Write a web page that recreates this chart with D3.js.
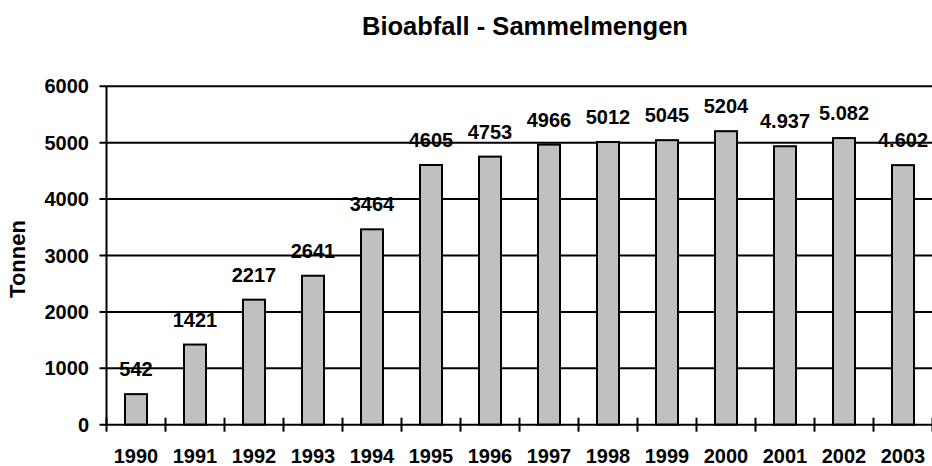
<!DOCTYPE html>
<html>
<head>
<meta charset="utf-8">
<script src="https://cdn.jsdelivr.net/npm/d3@7"></script>
<style>
  body { margin: 0; background: #fff; }
  text { font-family: "Liberation Sans", Arial, sans-serif; font-weight: bold; fill: #000; }
</style>
</head>
<body>
<div id="chart"></div>
<script>
// Jahre und Sammelmengen (Tonnen)
let years = ['1990', '1991', '1992', '1993', '1994', '1995', '1996', '1997', '1998', '1999', '2000', '2001', '2002', '2003'];
let amounts = [542, 1421, 2217, 2641, 3464, 4605, 4753, 4966, 5012, 5045, 5204, 4937, 5082, 4602];
let labels = ['542', '1421', '2217', '2641', '3464', '4605', '4753', '4966', '5012', '5045', '5204', '4.937', '5.082', '4.602'];
let yTicks = [0, 1000, 2000, 3000, 4000, 5000, 6000];

let width = 932, height = 466;
let pLeft = 106.5, pRight = 932.5, pTop = 86.3, pBottom = 424.7;

let svg = d3.select('#chart').append('svg')
    .attr('width', width)
    .attr('height', height);

//比例尺
let x = d3.scaleBand().domain(years).range([pLeft, pRight]).padding(0);
let y = d3.scaleLinear().domain([0, 6000]).range([pBottom, pTop]);
let barW = 22;

//网格线
svg.append('g').selectAll('line')
    .data(yTicks.filter(d => d > 0))
    .enter()
    .append('line')
    .attr('x1', pLeft - 7)
    .attr('x2', pRight)
    .attr('y1', d => y(d))
    .attr('y2', d => y(d))
    .style('stroke', '#000')
    .style('stroke-width', 2);

//y轴刻度文本
svg.append('g').selectAll('text')
    .data(yTicks)
    .enter()
    .append('text')
    .attr('x', 89)
    .attr('y', d => y(d) + 7)
    .style('font-size', '20px')
    .style('text-anchor', 'end')
    .text(d => d);

//柱子
svg.append('g').selectAll('rect')
    .data(amounts)
    .enter()
    .append('rect')
    .attr('x', (d, i) => x(years[i]) + x.bandwidth() / 2 - barW / 2)
    .attr('y', d => y(d))
    .attr('width', barW)
    .attr('height', d => y(0) - y(d))
    .style('fill', '#c0c0c0')
    .style('stroke', '#000')
    .style('stroke-width', 2);

//数值标签
svg.append('g').selectAll('text')
    .data(amounts)
    .enter()
    .append('text')
    .attr('x', (d, i) => x(years[i]) + x.bandwidth() / 2)
    .attr('y', d => y(d) - 18)
    .style('font-size', '20px')
    .style('text-anchor', 'middle')
    .text((d, i) => labels[i]);

//坐标轴
svg.append('line')
    .attr('x1', pLeft).attr('x2', pLeft)
    .attr('y1', pTop).attr('y2', pBottom)
    .style('stroke', '#000').style('stroke-width', 2);
svg.append('line')
    .attr('x1', pLeft - 7).attr('x2', pRight)
    .attr('y1', pBottom).attr('y2', pBottom)
    .style('stroke', '#000').style('stroke-width', 2);

//x轴刻度
let bounds = years.map(d => x(d)).concat([pRight]);
svg.append('g').selectAll('line')
    .data(bounds)
    .enter()
    .append('line')
    .attr('x1', d => d).attr('x2', d => d)
    .attr('y1', pBottom - 7).attr('y2', pBottom + 7)
    .style('stroke', '#000').style('stroke-width', 2);

svg.append('g').selectAll('text')
    .data(years)
    .enter()
    .append('text')
    .attr('x', d => x(d) + x.bandwidth() / 2)
    .attr('y', 463)
    .style('font-size', '20px')
    .style('text-anchor', 'middle')
    .text(d => d);

//标题
svg.append('text')
    .attr('x', 525)
    .attr('y', 35)
    .style('font-size', '25.5px')
    .style('text-anchor', 'middle')
    .text('Bioabfall - Sammelmengen');

//y轴标题
svg.append('text')
    .attr('transform', 'translate(25,' + 259 + ') rotate(-90)')
    .style('font-size', '22px')
    .style('text-anchor', 'middle')
    .text('Tonnen');
</script>
</body>
</html>
